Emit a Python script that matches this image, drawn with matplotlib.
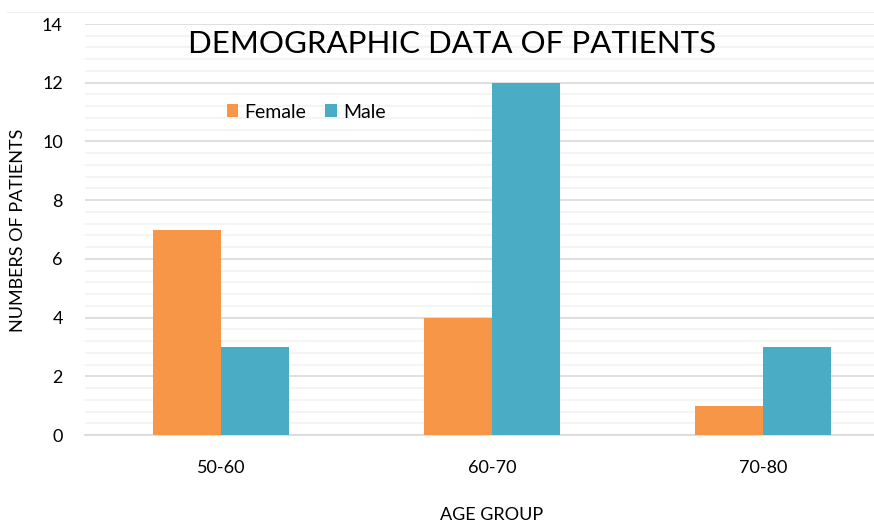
import numpy as np
from matplotlib import pyplot as plt
from matplotlib.ticker import MultipleLocator

age_groups = ["50-60", "60-70", "70-80"]
female = [7, 4, 1]
male = [3, 12, 3]

plt.rcParams["font.family"] = ["Lato", "DejaVu Sans"]

fig = plt.figure(figsize=(8.74, 5.23), dpi=100)
ax = fig.add_axes([85 / 874, 88 / 523, 789 / 874, 411 / 523])

x = np.arange(len(age_groups))
w = 0.25
ax.bar(x - w / 2, female, w, color="#F79646", label="Female", zorder=3)
ax.bar(x + w / 2, male, w, color="#4BACC6", label="Male", zorder=3)

ax.set_xlim(-0.502, 2.41)
ax.set_ylim(0, 14)
ax.yaxis.set_major_locator(MultipleLocator(2))
ax.yaxis.set_minor_locator(MultipleLocator(0.4))
ax.grid(axis="y", which="major", color="#D9D9D9", linewidth=1.2, zorder=0)
ax.grid(axis="y", which="minor", color="#F2F2F2", linewidth=1.2, zorder=0)
ax.set_xticks(x)
ax.set_xticklabels(age_groups)
ax.tick_params(axis="both", which="both", length=0, labelsize=13, colors="black")
ax.tick_params(axis="x", pad=18)
ax.tick_params(axis="y", pad=16)
for s in ["top", "right", "left"]:
    ax.spines[s].set_visible(False)
ax.spines["bottom"].set_color("#D9D9D9")
ax.spines["bottom"].set_linewidth(1.2)

fig.text(452 / 874, 1 - 44 / 523, "DEMOGRAPHIC DATA OF PATIENTS", fontsize=22.5,
         ha="center", va="center")
fig.text(18 / 874, 1 - 230 / 523, "NUMBERS OF PATIENTS", fontsize=13,
         rotation=90, ha="center", va="center")
fig.text(492 / 874, 1 - 515 / 523, "AGE GROUP", fontsize=13, ha="center", va="center")

ax.legend(loc="center", bbox_to_anchor=(306 / 874, 1 - 112 / 523),
          bbox_transform=fig.transFigure, ncol=2, frameon=False, fontsize=14,
          handlelength=0.6, handleheight=0.6, handletextpad=0.3, columnspacing=1.0)

fig.add_artist(plt.Line2D([7 / 874, 1], [1 - 12 / 523, 1 - 12 / 523],
                          color="#F0F0F0", linewidth=0.8))

fig.savefig("out.png", dpi=100)
